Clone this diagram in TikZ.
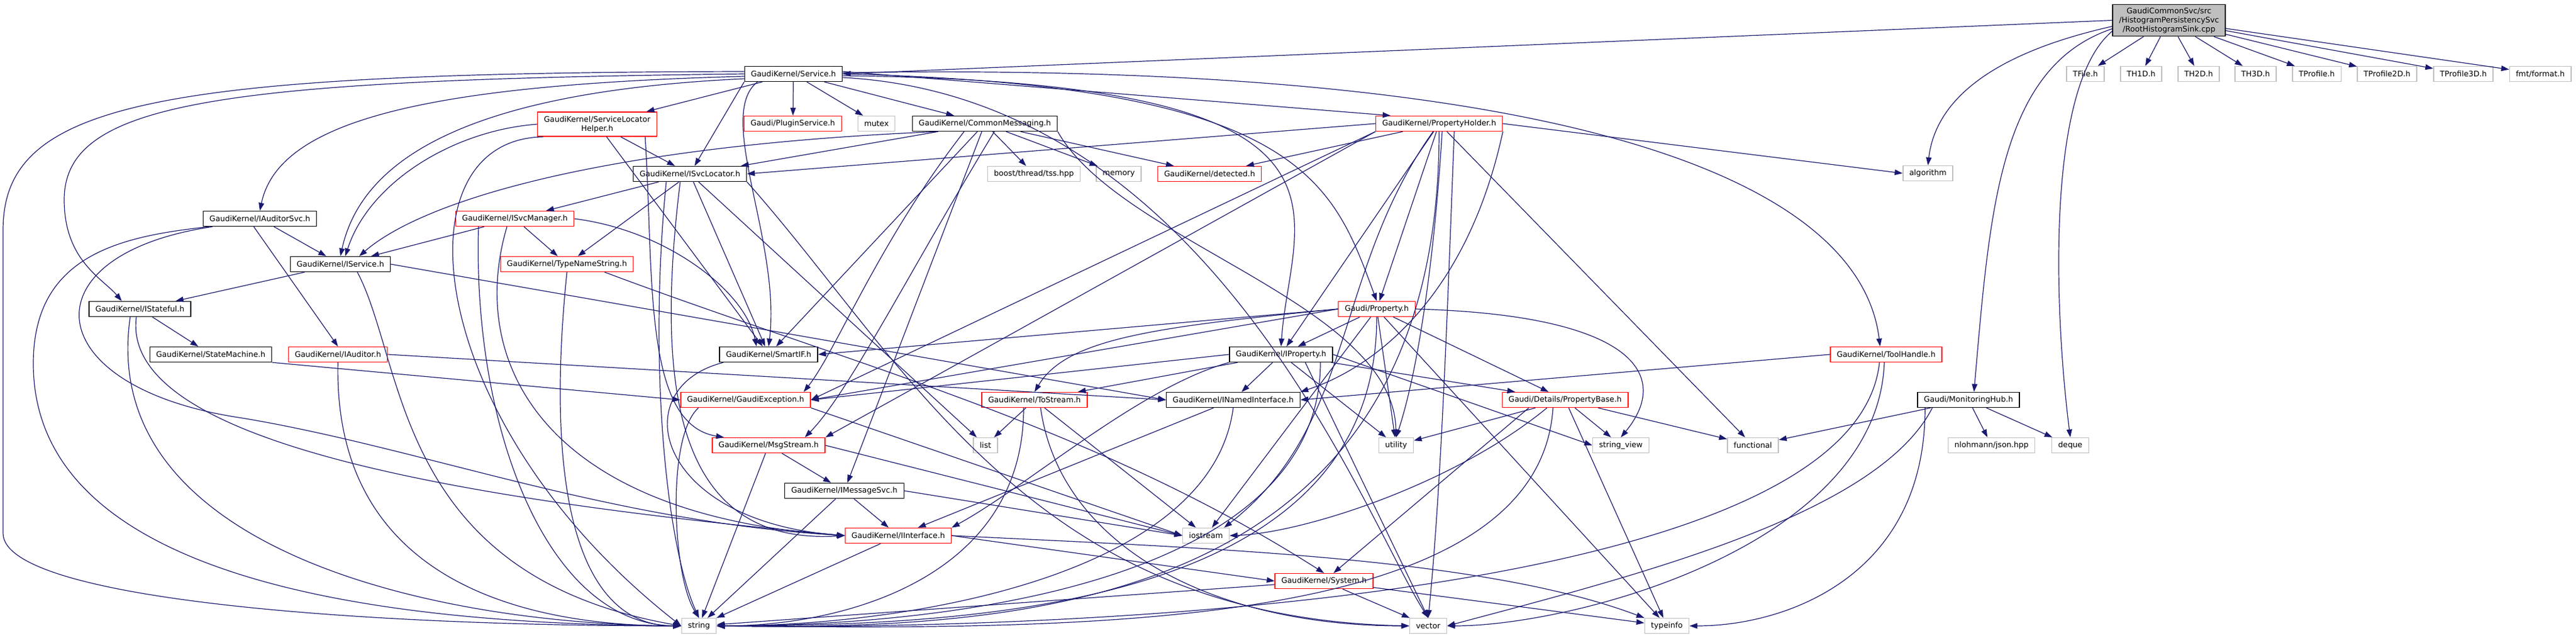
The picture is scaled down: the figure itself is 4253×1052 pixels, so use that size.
\documentclass[tikz,border=0pt]{standalone}
\usepackage{fontspec}
\newfontfamily\dvs{DejaVu Sans}
\usetikzlibrary{arrows.meta,calc}
\definecolor{edgecol}{HTML}{191970}
\definecolor{greyline}{HTML}{BFBFBF}
\definecolor{rootfill}{HTML}{BFBFBF}
\tikzset{
  nd/.style={draw, line width=1.4pt, fill=white, minimum height=25pt, inner xsep=10.5pt, inner ysep=3pt, font=\dvs\fontsize{12.7}{15}\selectfont, text=black, align=center},
  blk/.style={nd, draw=black},
  trunc/.style={nd, draw=red},
  ext/.style={nd, draw=greyline},
  rootnd/.style={nd, draw=black, fill=rootfill, inner ysep=5pt},
  conn/.style={draw=edgecol, line width=1.2pt, -{Triangle[length=13pt,width=9pt]}},
}
\begin{document}
\begin{tikzpicture}[x=1pt,y=-1pt]
\useasboundingbox (0,0) rectangle (4253,1052);
\fill[white] (0,0) rectangle (4253,1052);
% ---------- nodes ----------
\node[rootnd] (root) at (3581,33.5) {GaudiCommonSvc/src\\/HistogramPersistencySvc\\/RootHistogramSink.cpp};
\node[blk] (Service) at (1310,122) {GaudiKernel/Service.h};
\node[ext] (TFile) at (3443,122) {TFile.h};
\node[ext] (TH1D) at (3535,122) {TH1D.h};
\node[ext] (TH2D) at (3630,122) {TH2D.h};
\node[ext] (TH3D) at (3724,122) {TH3D.h};
\node[ext] (TProfile) at (3825,122) {TProfile.h};
\node[ext] (TProfileB) at (3941,122) {TProfile2D.h};
\node[ext] (TProfileC) at (4067,122) {TProfile3D.h};
\node[ext] (fmt) at (4194,122) {fmt/format.h};
\node[trunc, inner ysep=6.5pt] (SLH) at (986,205) {GaudiKernel/ServiceLocator\\Helper.h};
\node[trunc] (PluginService) at (1309,204) {Gaudi/PluginService.h};
\node[ext] (mutex) at (1447,204) {mutex};
\node[blk] (CommonMessaging) at (1626,204) {GaudiKernel/CommonMessaging.h};
\node[trunc] (PropertyHolder) at (2376,204) {GaudiKernel/PropertyHolder.h};
\node[blk] (ISvcLocator) at (1139,287) {GaudiKernel/ISvcLocator.h};
\node[ext] (boost) at (1707,287) {boost/thread/tss.hpp};
\node[ext] (memory) at (1847,287) {memory};
\node[trunc] (detected) at (1997,287) {GaudiKernel/detected.h};
\node[ext] (algorithm) at (3183,286) {algorithm};
\node[blk] (IAuditorSvc) at (429,361) {GaudiKernel/IAuditorSvc.h};
\node[trunc] (ISvcManager) at (850,361) {GaudiKernel/ISvcManager.h};
\node[blk] (IService) at (562,436) {GaudiKernel/IService.h};
\node[trunc] (TypeNameString) at (936,436) {GaudiKernel/TypeNameString.h};
\node[blk] (IStateful) at (231,510) {GaudiKernel/IStateful.h};
\node[trunc] (Property) at (2273,510) {Gaudi/Property.h};
\node[blk] (StateMachine) at (348,585) {GaudiKernel/StateMachine.h};
\node[trunc] (IAuditor) at (558,585) {GaudiKernel/IAuditor.h};
\node[blk] (SmartIF) at (1269,585) {GaudiKernel/SmartIF.h};
\node[blk] (IProperty) at (2115,585) {GaudiKernel/IProperty.h};
\node[trunc] (ToolHandle) at (3114,585) {GaudiKernel/ToolHandle.h};
\node[trunc] (GaudiException) at (1231,660) {GaudiKernel/GaudiException.h};
\node[trunc] (ToStream) at (1708,660) {GaudiKernel/ToStream.h};
\node[blk] (INamedInterface) at (2036,660) {GaudiKernel/INamedInterface.h};
\node[trunc] (PropertyBase) at (2584,660) {Gaudi/Details/PropertyBase.h};
\node[blk] (MonitoringHub) at (3250,660) {Gaudi/MonitoringHub.h};
\node[trunc] (MsgStream) at (1269,735) {GaudiKernel/MsgStream.h};
\node[ext] (list) at (1627,735) {list};
\node[ext] (utility) at (2305,735) {utility};
\node[ext] (stringview) at (2676,735) {string\_view};
\node[ext] (functional) at (2894,735) {functional};
\node[ext] (nlohmann) at (3288,735) {nlohmann/json.hpp};
\node[ext] (deque) at (3418,735) {deque};
\node[blk] (IMessageSvc) at (1394,810) {GaudiKernel/IMessageSvc.h};
\node[trunc] (IInterface) at (1483,884) {GaudiKernel/IInterface.h};
\node[ext] (iostream) at (1991,884) {iostream};
\node[trunc] (System) at (2186,959) {GaudiKernel/System.h};
\node[ext] (string) at (1154,1033) {string};
\node[ext] (vector) at (2358,1033) {vector};
\node[ext] (typeinfo) at (2752,1033) {typeinfo};
% waypoints
\coordinate (wpS1) at (106,330);
\coordinate (wpS2) at (5,380);
\coordinate (wpS3) at (5,880);
\coordinate (wpA) at (55,600);
\coordinate (wpB) at (400,690);
% ---------- edges ----------
% root
\draw[conn] (root.west) -- (Service.east);
\foreach \t in {TFile,TH1D,TH2D,TH3D,TProfile,TProfileB,TProfileC,fmt} \draw[conn] (root) -- (\t);
\draw[conn] ($(root.west)+(0,10)$) .. controls (3280,90) and (3195,170) .. (algorithm.north);
\draw[conn] ($(root.west)+(0,14)$) .. controls (3300,110) and (3285,350) .. ([xshift=9pt]MonitoringHub.north);
\draw[conn] ($(root.west)+(0,18)$) .. controls (3380,140) and (3390,500) .. (deque.north);
% Service
\draw[conn] ($(Service.west)+(0,4)$) .. controls (700,140) and (460,200) .. (IAuditorSvc.north);
\draw[conn] ($(Service.west)+(0,0)$) .. controls (350,132) and (106,170) .. (wpS1) .. controls (106,430) and (170,460) .. ([xshift=-30pt]IStateful.north);
\draw[conn] ($(Service.west)+(0,-4)$) .. controls (250,120) and (5,170) .. (wpS2) -- (wpS3) .. controls (5,990) and (600,1033) .. (string.west);
\draw[conn] (Service) -- (SLH);
\draw[conn] ($(Service.west)+(0,8)$) .. controls (800,150) and (600,250) .. (IService.north);
\draw[conn] (Service.south west) -- (ISvcLocator);
\draw[conn] (Service) -- (PluginService);
\draw[conn] (Service) -- (mutex);
\draw[conn] (Service) -- (CommonMessaging);
\draw[conn] ([xshift=22pt]Service.south west) .. controls (1180,190) and (1290,400) .. (SmartIF.north);
\draw[conn] ($(Service.east)+(0,-4)$) -- ($(PropertyHolder.north west)+(25,0)$);
\draw[conn] (Service.east) .. controls (2150,140) and (2200,300) .. (Property.north);
\draw[conn] ($(Service.east)+(0,3)$) .. controls (2300,135) and (2130,350) .. (IProperty.north);
\draw[conn] ($(Service.east)+(0,-2)$) .. controls (2600,100) and (3071,300) .. ([xshift=-10pt]ToolHandle.north);
\draw[conn] ($(Service.east)+(0,6)$) .. controls (2000,160) and (2250,850) .. (vector.north);
% ServiceLocatorHelper
\draw[conn] (SLH.west) .. controls (750,215) and (610,300) .. ([xshift=8pt]IService.north);
\draw[conn] (SLH) -- (ISvcLocator);
\draw[conn] ([xshift=-20pt]SLH.south east) .. controls (1080,450) and (1060,700) .. ([xshift=20pt]MsgStream.north west);
\draw[conn] (SLH) -- (SmartIF);
\draw[conn] ([xshift=10pt]SLH.south west) .. controls (650,230) and (700,700) .. (string.west);
% CommonMessaging
\draw[conn] ([xshift=43pt]CommonMessaging.south west) .. controls (1000,240) and (700,330) .. ([xshift=31pt]IService.north);
\draw[conn] ([xshift=43pt]CommonMessaging.south west) -- ([xshift=-10pt]ISvcLocator.north east);
\draw[conn] (CommonMessaging) -- (SmartIF);
\draw[conn] ([xshift=86pt]CommonMessaging.south west) .. controls (1450,400) and (1380,580) .. ([xshift=-12pt]GaudiException.north east);
\draw[conn] ([xshift=136pt]CommonMessaging.south west) .. controls (1500,450) and (1400,650) .. ([xshift=-34pt]MsgStream.north east);
\draw[conn] (CommonMessaging) -- (IMessageSvc);
\draw[conn] (CommonMessaging) -- (boost);
\draw[conn] (CommonMessaging) -- (memory);
\draw[conn] (CommonMessaging) -- (detected);
\draw[conn] (CommonMessaging.south east) .. controls (1850,400) and (2300,500) .. (utility.north);
% PropertyHolder
\draw[conn] (PropertyHolder.west) -- (ISvcLocator.east);
\draw[conn] (PropertyHolder) -- (detected);
\draw[conn] (PropertyHolder.east) -- (algorithm.west);
\draw[conn] (PropertyHolder) -- (Property);
\draw[conn] (PropertyHolder) -- (IProperty);
\draw[conn] (PropertyHolder.south east) .. controls (2420,500) and (2260,610) .. (INamedInterface.north east);
\draw[conn] (PropertyHolder.south west) -- (GaudiException.east);
\draw[conn] ([xshift=-10pt]PropertyHolder.south) .. controls (2200,450) and (2240,700) .. ([xshift=30pt]iostream.north);
\draw[conn] (PropertyHolder.south) .. controls (2376,1000) and (1700,1040) .. (string.east);
\draw[conn] ([xshift=25pt]PropertyHolder.south) .. controls (2390,500) and (2380,800) .. (vector.north);
\draw[conn] ([xshift=5pt]PropertyHolder.south) .. controls (2370,400) and (2345,600) .. (utility.north);
\draw[conn] (PropertyHolder) -- (functional);
\draw[conn] (PropertyHolder.south west) -- (MsgStream.north east);
% ISvcLocator
\draw[conn] (ISvcLocator) -- (ISvcManager);
\draw[conn] (ISvcLocator) -- (TypeNameString);
\draw[conn] (ISvcLocator) -- (SmartIF);
\draw[conn] ([xshift=-16pt]ISvcLocator.south) .. controls (1080,650) and (1120,900) .. (IInterface.west);
\draw[conn] ([xshift=-39pt]ISvcLocator.south) .. controls (1070,600) and (1100,900) .. (string.north);
\draw[conn] (ISvcLocator) -- (list);
\draw[conn] (ISvcLocator.south east) .. controls (1500,600) and (1700,1020) .. (vector.west);
% ISvcManager
\draw[conn] (ISvcManager) -- (IService);
\draw[conn] (ISvcManager) -- (TypeNameString);
\draw[conn] (ISvcManager.east) .. controls (1100,380) and (1230,480) .. ([xshift=-20pt]SmartIF.north);
\draw[conn] ([xshift=-13pt]ISvcManager.south) .. controls (770,600) and (900,850) .. (IInterface.west);
\draw[conn] ([xshift=-60pt]ISvcManager.south) .. controls (780,700) and (900,1030) .. (string.west);
% IAuditorSvc
\draw[conn] (IAuditorSvc) -- (IService);
\draw[conn] ([xshift=-10pt]IAuditorSvc.south) -- (IAuditor.north);
\draw[conn] ([xshift=10pt]IAuditorSvc.south west) .. controls (200,390) and (55,420) .. (wpA) .. controls (55,950) and (600,1030) .. (string.west);
\draw[conn] ([xshift=16pt]IAuditorSvc.south west) .. controls (40,420) and (60,640) .. (wpB) .. controls (700,740) and (1000,860) .. (IInterface.west);
% IService
\draw[conn] (IService) -- (IStateful);
\draw[conn] (IService.east) -- (INamedInterface.west);
\draw[conn] ([xshift=28pt]IService.south) .. controls (670,600) and (650,950) .. (string.west);
% TypeNameString
\draw[conn] (TypeNameString.south) .. controls (900,800) and (950,1033) .. (string.west);
\draw[conn] ([xshift=-48pt]TypeNameString.south east) .. controls (1400,600) and (1800,700) .. (System.north);
% IStateful
\draw[conn] (IStateful) -- (StateMachine);
\draw[conn] ([xshift=-6pt]IStateful.south) .. controls (200,720) and (700,820) .. (IInterface.west);
\draw[conn] ([xshift=-16pt]IStateful.south) .. controls (160,900) and (700,1030) .. (string.west);
% StateMachine
\draw[conn] (StateMachine.south east) -- (GaudiException.west);
% IAuditor
\draw[conn] (IAuditor.east) -- (INamedInterface.west);
\draw[conn] (IAuditor.south) .. controls (550,950) and (850,1033) .. (string.west);
% SmartIF
\draw[conn] ([xshift=7pt]SmartIF.south west) .. controls (1030,640) and (1080,860) .. (IInterface.west);
% Property
\draw[conn] (Property.west) -- (SmartIF.east);
\draw[conn] (Property) -- (IProperty);
\draw[conn] (Property) -- (PropertyBase);
\draw[conn] (Property.west) .. controls (1900,540) and (1760,560) .. (ToStream.north);
\draw[conn] (Property.west) -- (GaudiException.east);
\draw[conn] (Property.south) .. controls (2273,990) and (1650,1033) .. (string.east);
\draw[conn] (Property) -- (typeinfo);
\draw[conn] (Property) -- (utility);
\draw[conn] (Property.east) .. controls (2700,520) and (2760,620) .. (stringview.north);
\draw[conn] (Property) -- (iostream);
% IProperty
\draw[conn] (IProperty.west) -- (GaudiException.east);
\draw[conn] (IProperty) -- (ToStream);
\draw[conn] (IProperty) -- (INamedInterface);
\draw[conn] (IProperty) -- (PropertyBase);
\draw[conn] (IProperty.south west) .. controls (1880,640) and (1700,800) .. (IInterface.north east);
\draw[conn] ([xshift=65pt]IProperty.south) .. controls (2180,950) and (1600,1033) .. (string.east);
\draw[conn] ([xshift=40pt]IProperty.south) -- (vector.north);
\draw[conn] (IProperty) -- (utility);
\draw[conn] (IProperty.east) -- (stringview.west);
% ToolHandle
\draw[conn] (ToolHandle.west) -- (INamedInterface.east);
\draw[conn] ([xshift=-11pt]ToolHandle.south) .. controls (3060,1000) and (1700,1040) .. (string.east);
\draw[conn] ([xshift=-3pt]ToolHandle.south) .. controls (3100,900) and (2600,1033) .. (vector.east);
% MonitoringHub
\draw[conn] (MonitoringHub) -- (functional);
\draw[conn] (MonitoringHub) -- (nlohmann);
\draw[conn] (MonitoringHub) -- (deque);
\draw[conn] ([xshift=13pt]MonitoringHub.south west) .. controls (3179,950) and (2950,1033) .. (typeinfo.east);
\draw[conn] ([xshift=25pt]MonitoringHub.south west) .. controls (3100,850) and (2700,950) .. (vector.east);
% ToStream
\draw[conn] (ToStream) -- (list);
\draw[conn] (ToStream) -- (iostream);
\draw[conn] ([xshift=10pt]ToStream.south) .. controls (1750,900) and (2000,1033) .. (vector.west);
\draw[conn] ([xshift=-18pt]ToStream.south) .. controls (1690,950) and (1400,1033) .. (string.east);
% GaudiException
\draw[conn] (GaudiException.south east) -- (iostream.west);
\draw[conn] ([xshift=30pt]GaudiException.south west) .. controls (1100,720) and (1110,950) .. (string.north);
% INamedInterface
\draw[conn] (INamedInterface) -- (IInterface);
\draw[conn] (INamedInterface.south) .. controls (2000,950) and (1500,1033) .. (string.east);
% PropertyBase
\draw[conn] (PropertyBase) -- (utility);
\draw[conn] (PropertyBase) -- (stringview);
\draw[conn] (PropertyBase) -- (functional);
\draw[conn] (PropertyBase) -- (typeinfo);
\draw[conn] ([xshift=-30pt]PropertyBase.south) .. controls (2400,800) and (2150,880) .. (iostream.east);
\draw[conn] ([xshift=-20pt]PropertyBase.south) .. controls (2540,1040) and (1800,1040) .. (string.east);
\draw[conn] ([xshift=-60pt]PropertyBase.south) -- (System);
% MsgStream
\draw[conn] (MsgStream) -- (IMessageSvc);
\draw[conn] (MsgStream) -- (string);
\draw[conn] (MsgStream.east) -- (iostream.west);
% IMessageSvc
\draw[conn] (IMessageSvc) -- (IInterface);
\draw[conn] (IMessageSvc.east) -- (iostream.west);
\draw[conn] (IMessageSvc) -- (string);
% IInterface
\draw[conn] (IInterface.east) -- (System.west);
\draw[conn] (IInterface.east) .. controls (2000,905) and (2450,920) .. (typeinfo.north west);
\draw[conn] (IInterface) -- (string);
% System
\draw[conn] (System) -- (string);
\draw[conn] (System) -- (vector);
\draw[conn] (System) -- (typeinfo);
\end{tikzpicture}
\end{document}
